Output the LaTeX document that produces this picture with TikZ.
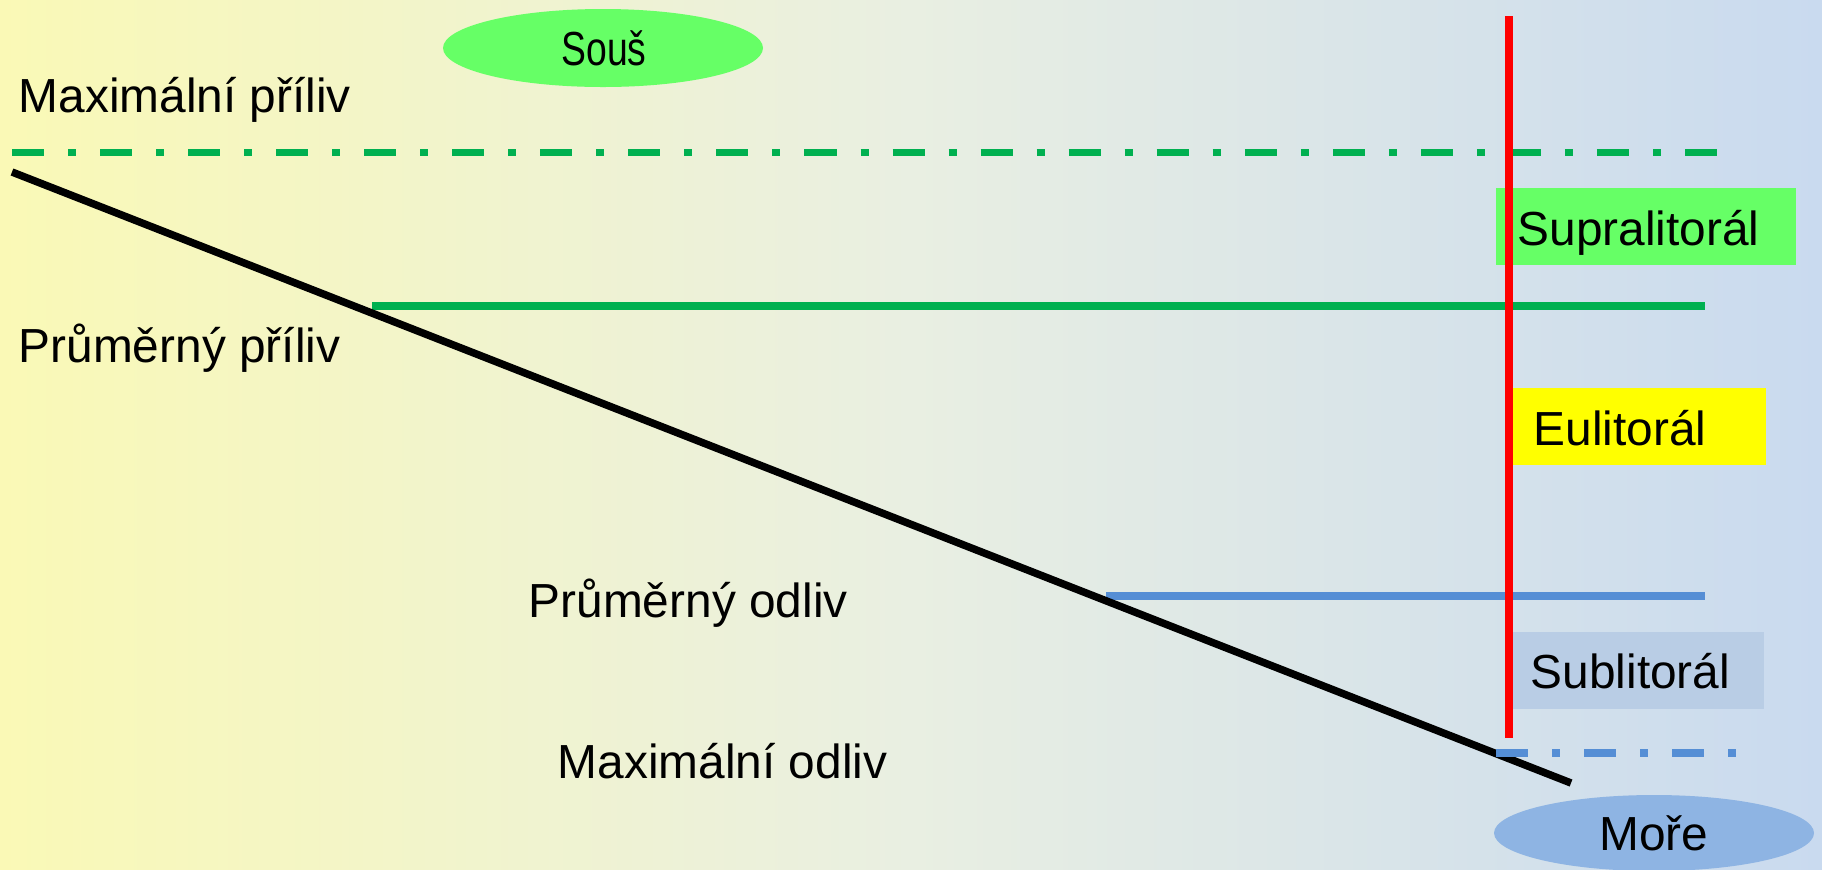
\documentclass[tikz,border=0pt]{standalone}
\usepackage{fontspec}
\setmainfont{Liberation Sans}
\usetikzlibrary{shapes.geometric}
\definecolor{bgyel}{HTML}{FAF9B6}
\definecolor{bgmid}{HTML}{E9EFE2}
\definecolor{bgblu}{HTML}{C9DAEF}
\definecolor{tgreen}{HTML}{00B050}
\definecolor{lgreen}{HTML}{66FF66}
\definecolor{pyellow}{HTML}{FFFF00}
\definecolor{tblue}{HTML}{558ED5}
\definecolor{subfill}{HTML}{B9CDE5}
\definecolor{seafill}{HTML}{8EB4E3}
\tikzset{
  lbl/.style={anchor=base west, inner sep=0pt, font=\fontsize{13.6pt}{16pt}\selectfont},
  clbl/.style={anchor=base, inner sep=0pt, font=\fontsize{13.6pt}{16pt}\selectfont},
  dashdot/.style={line width=0.07cm, line cap=butt, dash pattern=on 0.32cm off 0.24cm on 0.08cm off 0.24cm},
  level/.style={line width=0.075cm, line cap=butt},
  shore/.style={line width=0.075cm, black, line cap=butt},
  divider/.style={line width=0.08cm, red, line cap=butt},
}
\begin{document}
\begin{tikzpicture}[x=0.01cm, y=-0.01cm]
\useasboundingbox (0,0) rectangle (1822,869);
\shade[left color=bgyel, right color=bgblu, middle color=bgmid] (0,0) rectangle (1822,869);
\begin{scope}
\clip (0,0) rectangle (1822,869);
\fill[lgreen] (603,48) ellipse [x radius=160, y radius=39];
\fill[seafill] (1654,833) ellipse [x radius=160, y radius=38];
\end{scope}
\node[clbl] (sous) at (604,65) {\scalebox{0.78}[1]{Souš}};
\node[clbl] (more) at (1654,850) {Moře};
\fill[lgreen] (1496,188) rectangle (1796,265);
\fill[pyellow] (1513,388) rectangle (1766,465);
\fill[subfill] (1513,632) rectangle (1764,709);
\coordinate (maxpA) at (12,152);
\coordinate (maxpB) at (1717,152);
\coordinate (prpA) at (372,306);
\coordinate (prpB) at (1705,306);
\coordinate (proA) at (1106,596);
\coordinate (proB) at (1705,596);
\coordinate (maxoA) at (1496,753);
\coordinate (maxoB) at (1737,753);
\coordinate (shoreA) at (12,172);
\coordinate (shoreB) at (1571,783);
\coordinate (redA) at (1509,16);
\coordinate (redB) at (1509,738);
\draw[dashdot, tgreen] (maxpA) -- (maxpB);
\draw[level, tgreen] (prpA) -- (prpB);
\draw[level, tblue] (proA) -- (proB);
\draw[shore] (shoreA) -- (shoreB);
\draw[dashdot, tblue, line width=0.08cm] (maxoA) -- (maxoB);
\draw[divider] (redA) -- (redB);
\node[lbl] (maxpriliv) at (18,112) {Maximální příliv};
\node[lbl] (prpriliv) at (18,362) {Průměrný příliv};
\node[lbl] (prodliv) at (528,617) {Průměrný odliv};
\node[lbl] (maxodliv) at (557,778) {Maximální odliv};
\node[lbl] (supra) at (1517,245) {Supralitorál};
\node[lbl] (eu) at (1533,445) {Eulitorál};
\node[lbl] (sub) at (1530,688) {Sublitorál};
\end{tikzpicture}
\end{document}
